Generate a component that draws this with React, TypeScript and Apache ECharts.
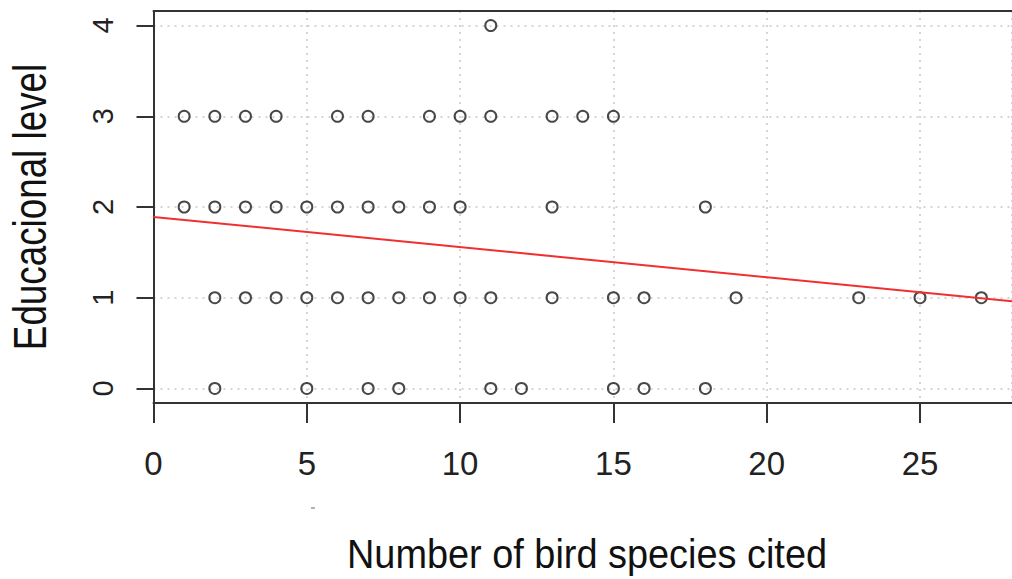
import React, { useEffect, useRef } from "react";
import * as echarts from "echarts";

// Data
const speciesAt4: number[] = [11];
const speciesAt3: number[] = [1, 2, 3, 4, 6, 7, 9, 10, 11, 13, 14, 15];
const speciesAt2: number[] = [1, 2, 3, 4, 5, 6, 7, 8, 9, 10, 13, 18];
const speciesAt1: number[] = [2, 3, 4, 5, 6, 7, 8, 9, 10, 11, 13, 15, 16, 19, 23, 25, 27];
const speciesAt0: number[] = [2, 5, 7, 8, 11, 12, 15, 16, 18];
const levels: number[] = [4, 3, 2, 1, 0];
const regressionLine: [number, number][] = [
  [0, 1.89],
  [28, 0.96],
];
const yTickValues: number[] = [0, 1, 2, 3, 4];
const xTitle = "Number of bird species cited";
const yTitle = "Educacional level";

export default function App() {
  const ref = useRef<HTMLDivElement>(null);

  useEffect(() => {
    if (!ref.current) return;
    const chart = echarts.init(ref.current, null, { renderer: "svg" });
    const groups = [speciesAt4, speciesAt3, speciesAt2, speciesAt1, speciesAt0];
    const points: [number, number][] = [];
    groups.forEach((xs, i) => xs.forEach((x) => points.push([x, levels[i]])));

    const font = "'Liberation Sans', Arial, sans-serif";
    const gridLine = { show: true, lineStyle: { color: "#c8c8c8", width: 1.5, type: [2, 5] as any } };
    const boxLine = { show: true, onZero: false, lineStyle: { color: "#333333", width: 2 } };

    chart.setOption({
      animation: false,
      backgroundColor: "#ffffff",
      grid: {
        left: 153.5,
        top: 11,
        width: 868,
        height: 392,
        show: false,
        containLabel: false,
      },
      xAxis: [
        {
          type: "value",
          position: "bottom",
          min: 0,
          max: 28,
          interval: 5,
          axisLine: boxLine,
          axisTick: { show: true, length: 20, lineStyle: { color: "#333333", width: 2 } },
          axisLabel: {
            show: true,
            margin: 44,
            fontSize: 33,
            color: "#222222",
            fontFamily: font,
            showMaxLabel: false,
          },
          splitLine: gridLine,
          z: 2,
        },
        {
          type: "value",
          position: "top",
          min: 0,
          max: 28,
          interval: 5,
          axisLine: boxLine,
          axisTick: { show: false },
          axisLabel: { show: false },
          splitLine: { show: false },
          z: 2,
        },
      ],
      yAxis: {
        type: "value",
        min: -0.16,
        max: 4.16,
        axisLine: boxLine,
        axisTick: {
          show: true,
          length: 17,
          customValues: yTickValues,
          lineStyle: { color: "#333333", width: 2 },
        },
        axisLabel: {
          show: true,
          rotate: 90,
          margin: 36,
          fontSize: 29,
          color: "#222222",
          fontFamily: font,
          customValues: yTickValues,
        },
        splitLine: gridLine,
        z: 2,
      },
      series: [
        {
          type: "scatter",
          xAxisIndex: 0,
          data: points,
          symbol: "circle",
          symbolSize: 11,
          itemStyle: { color: "transparent", borderColor: "#1a1a1a", borderWidth: 2 },
          z: 3,
        },
        {
          type: "line",
          xAxisIndex: 0,
          data: regressionLine,
          showSymbol: false,
          symbol: "none",
          lineStyle: { color: "#f03030", width: 2 },
          z: 4,
        },
      ],
      graphic: [
        {
          type: "text",
          x: 587,
          y: 553,
          scaleX: 0.924,
          style: {
            text: xTitle,
            fontSize: 41,
            fontFamily: font,
            fill: "#111111",
            align: "center",
            verticalAlign: "middle",
          },
        },
        {
          type: "text",
          x: 30,
          y: 207,
          rotation: Math.PI / 2,
          scaleX: 0.8,
          style: {
            text: yTitle,
            fontSize: 46,
            fontFamily: font,
            fill: "#111111",
            align: "center",
            verticalAlign: "middle",
          },
        },
        {
          type: "line",
          shape: { x1: 311, y1: 508, x2: 315, y2: 508 },
          style: { stroke: "#666666", lineWidth: 1 },
        },
      ],
    });
    return () => chart.dispose();
  }, []);

  return (
    <div
      ref={ref}
      style={{ position: "fixed", left: 0, top: 0, width: 1012, height: 579, overflow: "hidden" }}
    />
  );
}
